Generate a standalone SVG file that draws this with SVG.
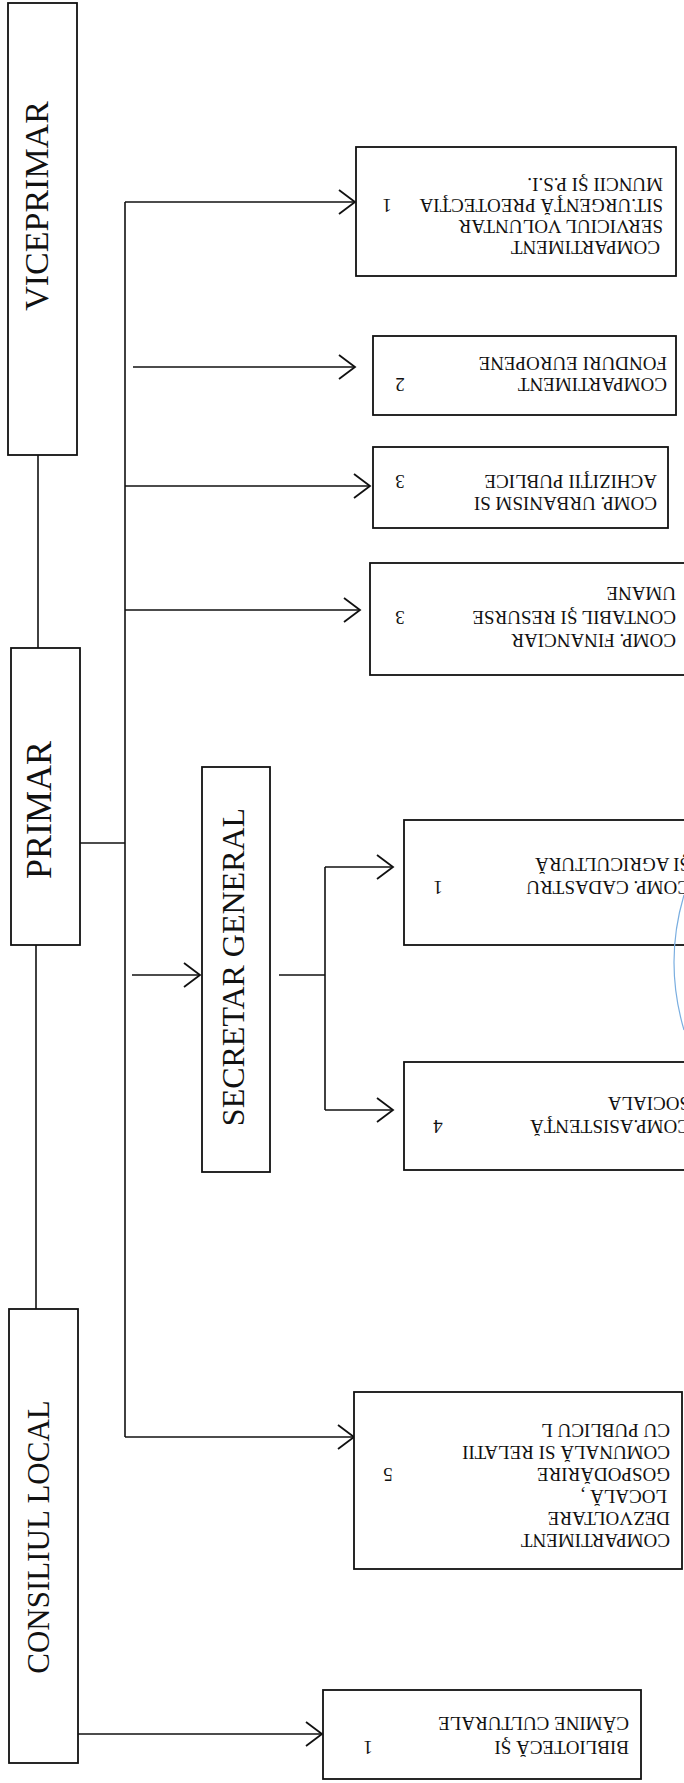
<svg xmlns="http://www.w3.org/2000/svg" width="684" height="1783" viewBox="0 0 684 1783">
<style>
.box{fill:#fff;stroke:#111;stroke-width:1.8}
.big{font-family:"Liberation Serif","Times New Roman",serif;font-size:34px;fill:#111}
.sm{font-family:"Liberation Serif","Times New Roman",serif;font-size:19px;fill:#111}
.ln{stroke:#111;stroke-width:1.6;fill:none}
.ar{stroke:#111;stroke-width:1.6;fill:none;marker-end:url(#arr)}
</style>
<defs>
<marker id="arr" viewBox="-18 -14 20 28" markerWidth="20" markerHeight="28" refX="0" refY="0" orient="auto" markerUnits="userSpaceOnUse">
<path d="M -16 -12 L 0 0 L -16 12" fill="none" stroke="#111" stroke-width="1.8"/>
</marker>
</defs>
<rect width="684" height="1783" fill="#fff"/>
<g id="connectors">
<path class="ln" d="M38 455 V648"/>
<path class="ln" d="M36 945 V1309"/>
<path class="ln" d="M125 202 V1437"/>
<path class="ar" d="M125 202 H355"/>
<path class="ar" d="M133 367 H355"/>
<path class="ar" d="M125 486 H370"/>
<path class="ar" d="M125 610 H360"/>
<path class="ln" d="M80 843 H125"/>
<path class="ar" d="M132 975 H200"/>
<path class="ln" d="M279 975 H325"/>
<path class="ln" d="M325 867 V1110"/>
<path class="ar" d="M325 867 H393"/>
<path class="ar" d="M325 1110 H393"/>
<path class="ar" d="M125 1437 H354"/>
<path class="ar" d="M78 1734 H322"/>
</g>
<g id="viceprimar"><rect class="box" x="8" y="3" width="69" height="452"/><text class="big" text-anchor="middle" transform="translate(48 206) rotate(-90)">VICEPRIMAR</text></g>
<g id="primar"><rect class="box" x="11" y="648" width="69" height="297"/><text class="big" style="font-size:36px" text-anchor="middle" transform="translate(51 810) rotate(-90)">PRIMAR</text></g>
<g id="secretar"><rect class="box" x="202" y="767" width="68" height="405"/><text class="big" style="font-size:32px" text-anchor="middle" transform="translate(244 967) rotate(-90)">SECRETAR GENERAL</text></g>
<g id="consiliul"><rect class="box" x="9" y="1309" width="69" height="454"/><text class="big" style="font-size:31px" text-anchor="middle" transform="translate(49 1537) rotate(-90)">CONSILIUL LOCAL</text></g>
<g id="comp-svsu"><rect class="box" x="356" y="147" width="320" height="129"/>
<text class="sm" transform="translate(663 178) rotate(180)">MUNCII ŞI P.S.I.</text>
<text class="sm" transform="translate(663 199) rotate(180)">SIT.URGENŢĂ PREOTECŢIA</text>
<text class="sm" text-anchor="middle" transform="translate(387 199) rotate(180)">1</text>
<text class="sm" transform="translate(663 220) rotate(180)">SERVICIUL VOLUNTAR</text>
<text class="sm" transform="translate(660 241) rotate(180)">COMPARTIMENT</text>
</g>
<g id="comp-fonduri"><rect class="box" x="373" y="336" width="303" height="79"/>
<text class="sm" transform="translate(667 357) rotate(180)">FONDURI  EUROPENE</text>
<text class="sm" transform="translate(667 378) rotate(180)">COMPARTIMENT</text>
<text class="sm" text-anchor="middle" transform="translate(400 378) rotate(180)">2</text>
</g>
<g id="comp-urbanism"><rect class="box" x="373" y="447" width="295" height="81"/>
<text class="sm" transform="translate(657 475) rotate(180)">ACHIZIŢII PUBLICE</text>
<text class="sm" text-anchor="middle" transform="translate(400 475) rotate(180)">3</text>
<text class="sm" transform="translate(657 497) rotate(180)">COMP. URBANISM  SI</text>
</g>
<g id="comp-financiar"><rect class="box" x="370" y="563" width="330" height="112"/>
<text class="sm" transform="translate(676 587) rotate(180)">UMANE</text>
<text class="sm" transform="translate(676 611) rotate(180)">CONTABIL ŞI RESURSE</text>
<text class="sm" text-anchor="middle" transform="translate(400 611) rotate(180)">3</text>
<text class="sm" transform="translate(676 634) rotate(180)">COMP. FINANCIAR</text>
</g>
<g id="comp-cadastru"><rect class="box" x="404" y="820" width="300" height="125"/>
<text class="sm" transform="translate(690 858) rotate(180)">ŞI AGRICULTURĂ</text>
<text class="sm" transform="translate(690 881) rotate(180)">COMP. CADASTRU</text>
<text class="sm" text-anchor="middle" transform="translate(438 881) rotate(180)">1</text>
</g>
<g id="comp-asistenta"><rect class="box" x="404" y="1062" width="300" height="108"/>
<text class="sm" transform="translate(690 1097) rotate(180)">SOCIALA</text>
<text class="sm" transform="translate(690 1120) rotate(180)">COMP.ASISTENŢĂ</text>
<text class="sm" text-anchor="middle" transform="translate(438 1120) rotate(180)">4</text>
</g>
<g id="comp-dezvoltare"><rect class="box" x="354" y="1392" width="328" height="177"/>
<text class="sm" transform="translate(670 1424) rotate(180)">CU PUBLICU L</text>
<text class="sm" transform="translate(670 1446) rotate(180)">COMUNALĂ SI  RELATII</text>
<text class="sm" transform="translate(670 1468) rotate(180)">GOSPODĂRIRE</text>
<text class="sm" text-anchor="middle" transform="translate(388 1468) rotate(180)">5</text>
<text class="sm" transform="translate(667 1490) rotate(180)">LOCALĂ ,</text>
<text class="sm" transform="translate(670 1512) rotate(180)">DEZVOLTARE</text>
<text class="sm" transform="translate(670 1534) rotate(180)">COMPARTIMENT</text>
</g>
<g id="biblioteca"><rect class="box" x="323" y="1690" width="318" height="89"/>
<text class="sm" transform="translate(629 1717) rotate(180)">CĂMINE  CULTURALE</text>
<text class="sm" transform="translate(629 1741) rotate(180)">BIBLIOTECĂ ŞI</text>
<text class="sm" text-anchor="middle" transform="translate(368 1741) rotate(180)">1</text>
</g>
<path d="M684 895 Q664 962 684 1030" fill="none" stroke="#7aaee0" stroke-width="1.2"/>
</svg>
